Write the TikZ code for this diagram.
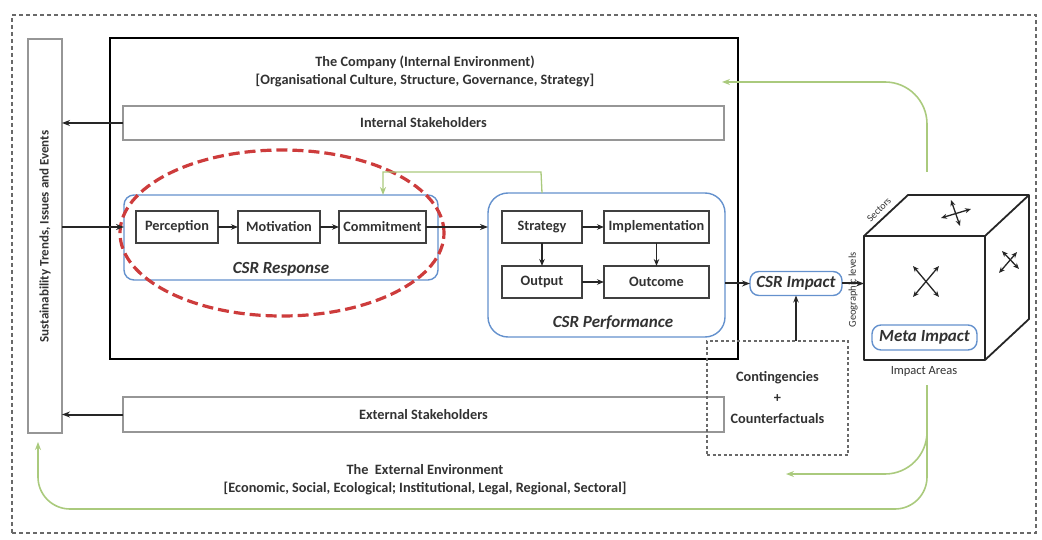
\documentclass[tikz,border=0pt]{standalone}
\usepackage{fontspec}
\setmainfont{Carlito}
\usetikzlibrary{arrows.meta,shapes.geometric,calc}

\definecolor{ink}{RGB}{50,50,50}
\definecolor{framegray}{RGB}{105,105,105}
\definecolor{boxgray}{RGB}{150,150,150}
\definecolor{csrblue}{RGB}{100,145,205}
\definecolor{fbgreen}{RGB}{170,202,125}
\definecolor{focusred}{RGB}{205,60,60}

\begin{document}
\begin{tikzpicture}[x=1pt,y=-1pt,
  every node/.style={inner sep=0pt, outer sep=0pt, text=ink},
  sz/.style 2 args={minimum width=#1, minimum height=#2},
  txt/.style={font=\fontsize{14.3}{17}\selectfont\bfseries},
  csrlbl/.style={font=\fontsize{17}{20}\selectfont\bfseries\itshape},
  envframe/.style={draw=framegray, line width=1.1pt, dash pattern=on 4pt off 3pt},
  company/.style={draw=black, line width=2.6pt},
  shbox/.style={draw=boxgray, line width=1.2pt, txt},
  stepbox/.style={draw=black!75, line width=1.1pt, txt},
  bluebox/.style={draw=csrblue, line width=1.4pt, rounded corners=#1},
  bluebox/.default=10pt,
  arr/.style={-{Stealth[length=8pt,width=6pt]}, line width=2pt, draw=black!85},
  sarr/.style={-{Stealth[length=7pt,width=5.5pt]}, line width=1.4pt, draw=black!85},
  garr/.style={-{Stealth[length=8pt,width=6pt]}, line width=1.6pt, draw=fbgreen},
  cubeln/.style={draw=black!85, line width=1.8pt, line join=round},
  dbl/.style={{Stealth[length=6pt,width=5pt]}-{Stealth[length=6pt,width=5pt]}, line width=1.3pt, draw=black!85}
]
\useasboundingbox (0,0) rectangle (1042,540);

% external environment frame
\node[envframe, sz={1024pt}{518pt}] (env) at (524,274) {};

% sustainability trends column
\node[draw=boxgray, line width=1.3pt, sz={34pt}{394pt}] (sust) at (45,236) {};
\node[rotate=90, font=\fontsize{13}{15}\selectfont\bfseries] (susttxt) at (45,236.5)
  {Sustainability Trends, Issues and Events};

% the company
\node[company, sz={628pt}{321pt}] (comp) at (424,198.5) {};
\node[txt, align=center] (comptitle) at (425,71)
  {The Company (Internal Environment)\\[1pt][Organisational Culture, Structure, Governance, Strategy]};

% stakeholders
\node[shbox, sz={601pt}{34pt}] (intsh) at (423.5,123) {Internal Stakeholders};
\node[shbox, sz={601pt}{35pt}] (extsh) at (423.5,414.5) {External Stakeholders};

% CSR response
\node[bluebox, sz={314pt}{85pt}] (resp) at (281,237.5) {};
\node[csrlbl] (resplbl) at (281,269) {CSR Response};
\node[stepbox, sz={82pt}{32pt}] (perc) at (177,227) {Perception};
\node[stepbox, sz={82pt}{32pt}] (moti) at (279,227) {Motivation};
\node[stepbox, sz={87pt}{32pt}] (comm) at (382.5,227) {Commitment};
\node[draw=focusred, line width=3.2pt, dash pattern=on 11pt off 5pt, ellipse,
      sz={324pt}{166pt}] (focus) at (282,233) {};

% CSR performance
\node[bluebox=20pt, sz={237pt}{144pt}] (perf) at (606.5,265) {};
\node[csrlbl] (perflbl) at (613,323) {CSR Performance};
\node[stepbox, sz={80pt}{32pt}] (strat) at (542,227) {Strategy};
\node[stepbox, sz={105pt}{32pt}] (impl) at (656.5,227) {Implementation};
\node[stepbox, sz={80pt}{32pt}] (outp) at (542,282) {Output};
\node[stepbox, sz={105pt}{32pt}] (outc) at (656.5,282) {Outcome};

% CSR impact and contingencies
\node[bluebox=9pt, sz={92pt}{24pt}, csrlbl] (impact) at (796,283.5) {CSR Impact};
\node[draw=framegray, line width=1.1pt, dash pattern=on 3pt off 2.5pt, sz={141pt}{114pt},
      txt, align=center] (cont) at (777.5,398)
  {Contingencies\\[4pt]+\\[4pt]Counterfactuals};

% meta impact cube
\node[cubeln, sz={121pt}{124pt}] (front) at (924.5,298) {};
\coordinate (btl) at (908,195);
\coordinate (btr) at (1029,195);
\coordinate (bbr) at (1029,319);
\draw[cubeln] (front.north west) -- (btl) -- (btr) -- (bbr) -- (front.south east);
\draw[cubeln] (front.north east) -- (btr);
\node[bluebox=9pt, sz={105pt}{25pt}, csrlbl] (meta) at (924.5,337.5) {Meta Impact};
\node[font=\fontsize{12.5}{14}\selectfont] (areas) at (924,371) {Impact Areas};
\node[rotate=45, font=\fontsize{10}{12}\selectfont] (sectors) at (879,210) {Sectors};
\node[rotate=90, font=\fontsize{10.5}{12}\selectfont] (geo) at (853,290) {Geographic levels};

% dimension arrows on the cube faces
\draw[dbl] (913,266) -- (939,297);
\draw[dbl] (939,266) -- (913,297);
\draw[dbl] (941,218) -- (971,209);
\draw[dbl] (951,200) -- (960,226);
\draw[dbl] (999,273) -- (1017,252);
\draw[dbl] (1002,251) -- (1019,269);

% black flows
\draw[arr] (intsh.west) -- (sust.east |- intsh.west);
\draw[arr] (extsh.west) -- (sust.east |- extsh.west);
\draw[arr] (sust.east |- perc.west) -- (resp.west |- perc.west);
\draw[sarr] (perc) -- (moti);
\draw[sarr] (moti) -- (comm);
\draw[arr] (comm.east) -- (perf.west |- comm.east);
\draw[sarr] (strat) -- (impl);
\draw[sarr] (strat) -- (outp);
\draw[sarr] (impl) -- (outc);
\draw[sarr] (outp) -- (outc);
\draw[arr] (perf.east |- impact.west) -- (impact.west);
\draw[arr] (impact.east) -- (front.west |- impact.east);
\draw[sarr] (impact.south |- cont.north) -- (impact.south);

% external environment captions
\node[txt, align=center] (envtitle) at (425,479.5)
  {The\ \ External Environment\\[1pt][Economic, Social, Ecological; Institutional, Legal, Regional, Sectoral]};

% green feedback loops
\coordinate (fbA) at (541,172);
\coordinate (fbB) at (383,172);
\draw[garr, line width=1.3pt] (strat.north |- perf.north) -- (fbA) -- (fbB) -- (fbB |- resp.north);
\coordinate (cubeUp) at (927,172);
\coordinate (compIn) at (722,82);
\draw[garr, rounded corners=42pt] (cubeUp) |- (compIn);
\coordinate (areasDown) at (927,385);
\coordinate (envIn) at (786,474);
\draw[garr, rounded corners=42pt] (areasDown) |- (envIn);
\coordinate (loopR) at (927,509);
\coordinate (loopL) at (38,509);
\coordinate (sustIn) at (38,442);
\draw[garr, rounded corners=32pt] (areasDown) -- (loopR) -- (loopL) -- (sustIn);
\end{tikzpicture}
\end{document}
